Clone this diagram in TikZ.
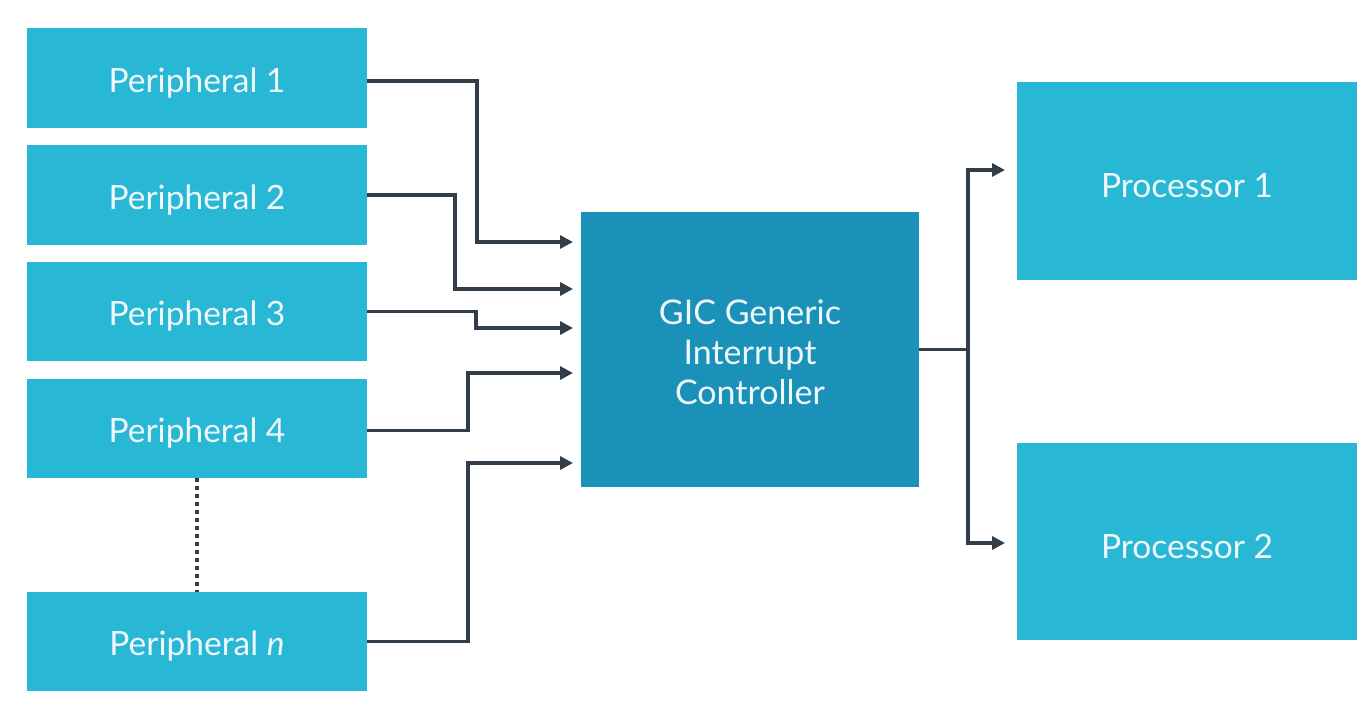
\documentclass[tikz,border=0pt]{standalone}
\usepackage{fontspec}
\setmainfont{Lato}
\usetikzlibrary{arrows.meta}
\definecolor{perc}{HTML}{29B7D6}
\definecolor{gicc}{HTML}{1A91B9}
\definecolor{linec}{HTML}{333D47}
\definecolor{txtc}{HTML}{EEF8FB}
\tikzset{
  box/.style={fill=perc, draw=none, text=txtc, font=\fontsize{33.5}{38}\selectfont, inner sep=0pt},
  gicbox/.style={fill=gicc, draw=none, inner sep=0pt},
  gictext/.style={text=txtc, font=\fontsize{34}{40}\selectfont, align=center, inner sep=0pt},
  conn/.style={draw=linec, line width=3.5pt},
  arr/.style={conn, -{Triangle[length=13pt,width=13pt]}},
}
\newcommand{\lowr}[1]{\raisebox{-5pt}[\height][\depth]{#1}}
\begin{document}
\begin{tikzpicture}[x=1pt,y=-1pt]
\useasboundingbox (0,0) rectangle (1371,701);
\node[box, minimum width=340pt, minimum height=100pt] (p1) at (197,78) {\lowr{Peripheral 1}};
\node[box, minimum width=340pt, minimum height=100pt] (p2) at (197,195) {\lowr{Peripheral 2}};
\node[box, minimum width=340pt, minimum height=99pt] (p3) at (197,311.5) {\lowr{Peripheral 3}};
\node[box, minimum width=340pt, minimum height=99pt] (p4) at (197,428.5) {\lowr{Peripheral 4}};
\node[box, minimum width=340pt, minimum height=99pt] (pn) at (197,641.5) {\lowr{Peripheral \textit{n}}};
\node[gicbox, minimum width=338pt, minimum height=275pt] (gic) at (750,349.5) {};
\node[gictext, yshift=-3pt] (gict) at (gic.center) {GIC Generic\\Interrupt\\Controller};
\node[box, minimum width=340pt, minimum height=198pt] (pr1) at (1187,181) {\lowr{Processor 1}};
\node[box, minimum width=340pt, minimum height=197pt] (pr2) at (1187,541.5) {\lowr{Processor 2}};
% entry points on GIC
\coordinate (g1) at (581,242);
\coordinate (g2) at (581,289);
\coordinate (g3) at (581,328);
\coordinate (g4) at (581,373);
\coordinate (g5) at (581,463);
\coordinate (q1) at (1017,170);
\coordinate (q2) at (1017,543);
% peripheral connectors
\draw[arr, shorten >=8pt] (p1.east) ++(0,3) -- ++(110,0) |- (g1);
\draw[arr, shorten >=8pt] (p2.east) -- ++(88,0) |- (g2);
\draw[arr, shorten >=8pt] (p3.east) -- ++(109,0) |- (g3);
\draw[arr, shorten >=8pt] (p4.east) ++(0,2) -- ++(101,0) |- (g4);
\draw[arr, shorten >=8pt] (pn.east) -- ++(101,0) |- (g5);
% dotted
\draw[draw=linec, line width=3.5pt, dash pattern=on 3.5pt off 4.5pt] (p4.south) -- (pn.north);
% output
\draw[conn] (gic.east) -- ++(49,0) coordinate (split);
\draw[arr, shorten >=12pt] (split) |- (q1);
\draw[arr, shorten >=12pt] (split) |- (q2);
\end{tikzpicture}
\end{document}
